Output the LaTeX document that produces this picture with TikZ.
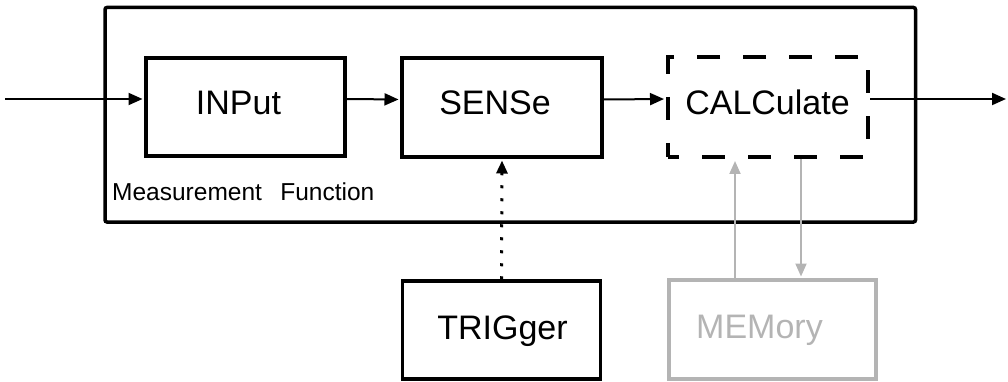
\documentclass[tikz,border=0pt]{standalone}
\usepackage{fontspec}
\setmainfont{Liberation Sans}
\usetikzlibrary{arrows.meta}
\definecolor{memgray}{RGB}{180,180,180}
\begin{document}
\begin{tikzpicture}[x=1pt,y=-1pt,
  box/.style={draw,line width=3.5pt,inner sep=0pt},
  lbl/.style={anchor=base,inner sep=0pt,font=\fontsize{34}{40}\selectfont},
  arr/.style={line width=2pt,-{Triangle[length=14pt,width=12pt]}},
  garr/.style={draw=memgray,line width=2pt,-{Triangle[length=13pt,width=11pt]},memgray},
]
\useasboundingbox (0,0) rectangle (1008,382);
% outer measurement function box
\node[box,rounded corners=2pt,minimum width=810.5pt,minimum height=214.5pt] (mf) at (510.25,114.75) {};
\node[anchor=base west,inner sep=0pt,font=\fontsize{24.5}{29}\selectfont] (mftxt) at (112,200) {Measurement\hspace{0.75em}Function};
% inner boxes
\node[box,minimum width=199pt,minimum height=98pt] (input) at (245.5,107) {};
\node[box,minimum width=200pt,minimum height=99pt] (sense) at (502,107.5) {};
\node[draw,line width=4pt,dash pattern=on 23pt off 23pt,dash phase=12pt,inner sep=0pt,minimum width=200pt,minimum height=100pt] (calc) at (768,107) {};
\node[box,minimum width=198pt,minimum height=98pt] (trig) at (501.5,330) {};
\node[box,draw=memgray,line width=3.5pt,minimum width=207pt,minimum height=99pt] (mem) at (772.3,329.5) {};
% labels
\node[lbl] (inputtxt) at (238.5,115) {INPut};
\node[lbl] (sensetxt) at (495,115) {SENSe};
\node[lbl] (calctxt) at (767.5,115) {CALCulate};
\node[lbl] (trigtxt) at (502.5,339) {TRIGger};
\node[lbl,text=memgray] (memtxt) at (759.5,338) {MEMory};
% connectors
\coordinate (in) at (5,99);
\coordinate (out) at (1006,99);
\draw[arr,shorten >=1.75pt] (in) -- ([yshift=8pt]input.west);
\draw[arr,shorten >=1.75pt] ([yshift=8pt]input.east) -- ([yshift=8pt]sense.west);
\draw[arr,shorten >=2pt] ([yshift=8pt]sense.east) -- ([yshift=8pt]calc.west);
\draw[arr] ([yshift=8pt]calc.east) -- (out);
\draw[line width=3pt,dash pattern=on 3pt off 10pt,shorten >=1.75pt,-{Triangle[length=13pt,width=11pt]}] (trig.north) -- (sense.south);
\draw[garr,shorten >=2pt] (mem.north -| 735,0) -- (calc.south -| 735,0);
\draw[garr,shorten >=1.75pt] (calc.south -| 801,0) -- (mem.north -| 801,0);
\end{tikzpicture}
\end{document}
